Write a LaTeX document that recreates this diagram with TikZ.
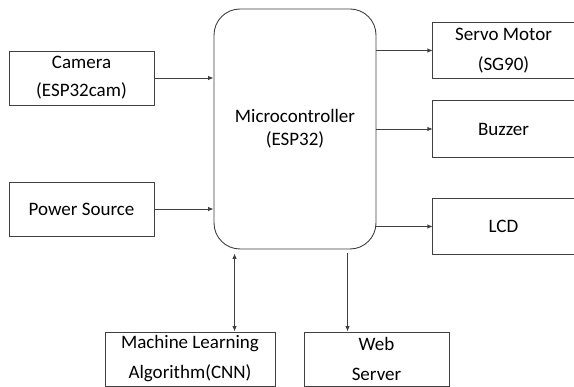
\documentclass[tikz,border=0pt]{standalone}
\usepackage{fontspec}
\setmainfont{Carlito}
\usetikzlibrary{arrows.meta,calc}
\begin{document}
\begin{tikzpicture}[x=1pt,y=-1pt,
  ln/.style={draw=black!75,line width=0.9pt},
  arr/.style={ln,-{Latex[length=5.5pt,width=4.5pt]}},
  darr/.style={ln,{Latex[length=5.5pt,width=4.5pt]}-{Latex[length=5.5pt,width=4.5pt]}},
  blk/.style={ln,rectangle,inner sep=0pt,align=center,font=\fontsize{19}{28}\selectfont,text=black},
  open/.style={rectangle,inner sep=0pt,align=center,font=\fontsize{19}{30}\selectfont,text=black}]
\useasboundingbox[fill=white] (0,0) rectangle (574,387);
% left inputs
\node[blk,minimum width=145pt,minimum height=54pt] (cam) at (81.5,78) {Camera\\(ESP32cam)};
\node[blk,minimum width=145pt,minimum height=54pt] (pwr) at (81.5,209) {Power Source};
% microcontroller
\node[blk,rounded corners=26pt,minimum width=162pt,minimum height=240pt,font=\fontsize{19}{23}\selectfont] (mc) at (295,129) {Microcontroller\\(ESP32)};
% right outputs (right edge outside picture)
\node[open,minimum width=141pt,minimum height=55pt] (srv) at (503.5,50.5) {Servo Motor\\(SG90)};
\node[open,minimum width=141pt,minimum height=56pt] (bzr) at (503.5,129) {Buzzer};
\node[open,minimum width=141pt,minimum height=55pt] (lcd) at (503.5,226.5) {LCD};
\foreach \n in {srv,bzr,lcd}{
  \draw[ln] (\n.north east) -- (\n.north west) -- (\n.south west) -- (\n.south east);
}
% bottom
\node[blk,minimum width=170pt,minimum height=54pt,font=\fontsize{19}{30}\selectfont] (ml) at (190,359) {Machine Learning\\Algorithm(CNN)};
\node[blk,minimum width=145pt,minimum height=54pt,font=\fontsize{19}{30}\selectfont] (web) at (376.5,359) {Web\\Server};
% connectors
\draw[arr] (cam.east) -- (cam.east -| mc.west);
\draw[arr] (pwr.east) -- (pwr.east -| mc.west);
\draw[arr] (srv.west -| mc.east) -- (srv.west);
\draw[arr] (bzr.west -| mc.east) -- (bzr.west);
\draw[arr] (lcd.west -| mc.east) -- (lcd.west);
\coordinate (mlt) at ($(mc.south west)+(21,4)$);
\coordinate (wbt) at ($(mc.south west)+(134,4)$);
\draw[darr] (mlt) -- (mlt |- ml.north);
\draw[arr] (wbt) -- (wbt |- web.north);
\end{tikzpicture}
\end{document}
